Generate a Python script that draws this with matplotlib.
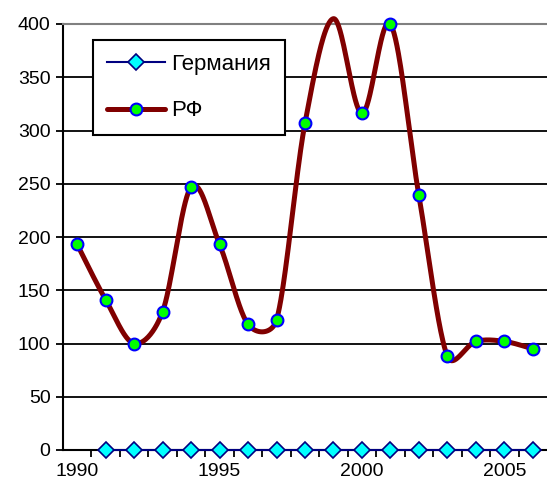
import numpy as np
import matplotlib
matplotlib.use("Agg")
import matplotlib.pyplot as plt
from matplotlib.ticker import MultipleLocator, FixedLocator
from matplotlib.lines import Line2D

plt.rcParams['font.family'] = ['Liberation Sans', 'DejaVu Sans']

years_rf = [1990, 1991, 1992, 1993, 1994, 1995, 1996, 1997, 1998,
            1999, 2000, 2001, 2002, 2003, 2004, 2005, 2006]
rf = [193, 141, 100, 130, 247, 193, 118, 122, 307,
      405, 316, 400, 239, 88, 102, 102, 95]

years_de = [1991, 1992, 1993, 1994, 1995, 1996, 1997, 1998,
            1999, 2000, 2001, 2002, 2003, 2004, 2005, 2006]
de = [0] * 16

x_labels = [1990, 1995, 2000, 2005]
label_de = "Германия"
label_rf = "РФ"

# pixel scale used for Excel-like smoothing (px per year, px per unit)
SX, SY = 28.5, 1.065


def smooth(xs, ys, n=40):
    X = np.asarray(xs, float) * SX
    Y = np.asarray(ys, float) * SY
    P = np.stack([X, Y], axis=1)
    m = len(P)
    out = []
    t = np.linspace(0, 1, n)[:, None]
    for i in range(m - 1):
        p0 = P[i - 1] if i > 0 else P[i]
        p1 = P[i]
        p2 = P[i + 1]
        p3 = P[i + 2] if i + 2 < m else P[i + 1]
        d12 = np.linalg.norm(p2 - p1)
        d02 = np.linalg.norm(p2 - p0)
        d13 = np.linalg.norm(p3 - p1)
        f1 = 1 / 6
        if d02 / 6 > d12 / 2 and d02 > 0:
            f1 = d12 / 2 / d02
        f2 = 1 / 6
        if d13 / 6 > d12 / 2 and d13 > 0:
            f2 = d12 / 2 / d13
        c1 = p1 + (p2 - p0) * f1
        c2 = p2 - (p3 - p1) * f2
        b = (1 - t) ** 3 * p1 + 3 * (1 - t) ** 2 * t * c1 + 3 * (1 - t) * t ** 2 * c2 + t ** 3 * p2
        out.append(b)
    out = np.concatenate(out)
    return out[:, 0] / SX, out[:, 1] / SY


fig = plt.figure(figsize=(5.47, 4.91), dpi=100)
ax = fig.add_axes([63 / 547, (491 - 450) / 491, (547 - 63) / 547, 426 / 491])

ax.set_xlim(1989.5, 2006.5)
ax.set_ylim(0, 400)

ax.yaxis.set_major_locator(MultipleLocator(50))
ax.grid(axis='y', color='black', linewidth=1.3)
ax.set_axisbelow(True)

# Germany
ax.plot(years_de, de, color='#000080', linewidth=1.5, marker='D',
        markersize=8, markerfacecolor='#00FFFF', markeredgecolor='#000080',
        markeredgewidth=1.2, clip_on=False, zorder=3)

# RF smoothed
sx, sy = smooth(years_rf, rf)
ax.plot(sx, sy, color='#800000', linewidth=3.6, solid_capstyle='round',
        solid_joinstyle='round', clip_on=False, zorder=4)
mx = [x for x, y in zip(years_rf, rf) if y <= 401]
my = [y for y in rf if y <= 401]
ax.plot(mx, my, linestyle='none', marker='o', markersize=8.5,
        markerfacecolor='#00FF00', markeredgecolor='#0000FF',
        markeredgewidth=1.5, clip_on=False, zorder=5)

h_de = Line2D([], [], color='#000080', linewidth=1.5, marker='D', markersize=8,
              markerfacecolor='#00FFFF', markeredgecolor='#000080', markeredgewidth=1.2)
h_rf = Line2D([], [], color='#800000', linewidth=3.6, marker='o', markersize=8.5,
              markerfacecolor='#00FF00', markeredgecolor='#0000FF', markeredgewidth=1.5,
              solid_capstyle='round')
leg = ax.legend([h_de, h_rf], [label_de, label_rf], loc='upper left',
                bbox_to_anchor=(93 / 547, 1 - 40 / 491), bbox_transform=fig.transFigure,
                fontsize=16, frameon=True, fancybox=False, framealpha=1,
                edgecolor='black', borderpad=0.62, handlelength=2.6,
                handletextpad=0.3, labelspacing=1.15, borderaxespad=0)
leg.get_frame().set_linewidth(1.5)

ax.spines['right'].set_visible(False)
ax.spines['top'].set_color('#808080')
ax.spines['top'].set_linewidth(1.5)
ax.spines['left'].set_linewidth(1.5)
ax.spines['bottom'].set_linewidth(1.5)

ax.xaxis.set_major_locator(FixedLocator(x_labels))
ax.xaxis.set_minor_locator(FixedLocator(np.arange(1990.5, 2006.5, 1.0)))
ax.tick_params(axis='x', which='major', length=0, labelsize=14, pad=9)
ax.tick_params(axis='x', which='minor', length=5, width=1.3, direction='out')
ax.tick_params(axis='y', which='major', length=5, width=1.3, direction='out',
               labelsize=14, pad=4)

fig.savefig('out.png', dpi=100)
